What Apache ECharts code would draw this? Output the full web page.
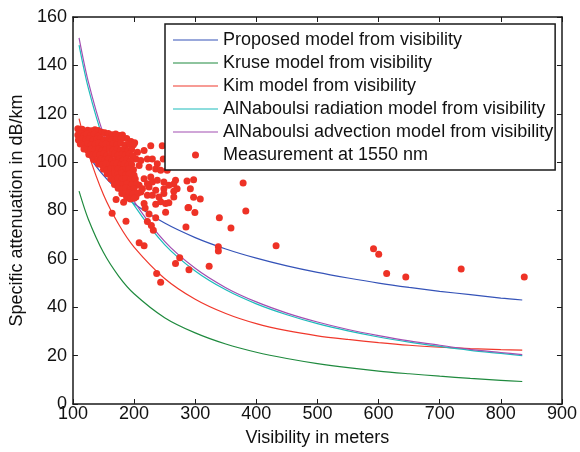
<!DOCTYPE html>
<html><head><meta charset="utf-8">
<script src="https://cdn.jsdelivr.net/npm/echarts@6/dist/echarts.min.js"></script>
<style>html,body{margin:0;padding:0;background:#fff}#c{width:580px;height:452px}</style>
</head><body><div id="c"></div>
<script>
// ---- data ----
const visibility = [110,125,150,175,200,250,300,350,400,450,500,550,600,650,700,750,800,835];
const proposedModel = [109,102.8,94.5,88.1,82.8,74.8,68.8,64.1,60.3,57.1,54.4,52.1,50.0,48.2,46.6,45.2,43.8,43.0];
const kruseModel = [88,76.5,62.6,52.8,45.6,35.7,29.4,24.8,21.4,18.8,16.7,15.0,13.6,12.5,11.5,10.6,9.8,9.3];
const kimModel = [118,103.8,86.5,74.2,64.9,51.9,43.3,37.4,33.2,30.3,28.2,26.7,25.4,24.3,23.5,22.9,22.5,22.3];
const radiationModel = [148.4,130.8,109.2,93.8,82.2,65.9,55.0,47.2,41.4,36.9,33.2,30.2,27.7,25.6,23.8,22.2,20.9,20.0];
const advectionModel = [151.4,133.4,111.4,95.7,83.8,67.2,56.1,48.1,42.2,37.6,33.9,30.8,28.3,26.1,24.3,22.6,21.3,20.4];
const measurement = [
 [166.7,92.3],[170.6,84.5],[182.9,83.4],[164.1,78.9],[186.8,75.6],[208.3,66.7],[216.4,65.4],[237.0,54.0],[243.5,50.3],
 [267.8,58.1],[274.7,60.5],[289.8,55.5],[322.8,56.9],[337.9,65.0],[337.9,63.3],[358.5,72.8],[339.5,77.0],[382.8,79.8],
 [378.4,91.4],[284.9,73.2],[299.5,79.2],[288.2,81.1],[251.6,79.3],[235.4,77.0],[228.3,73.8],[231.5,71.8],[221.8,75.5],
 [224.5,78.6],[218.1,81.0],[308.3,84.8],[297.4,85.5],[432.3,65.4],[591.7,64.2],[600.2,61.9],[613.2,54.0],[644.5,52.5],
 [735.1,55.8],[838.3,52.5],
 [227.3,106.8],[246.1,106.8],[205.6,104.1],[216.4,104.8],[203.0,101.3],[211.1,100.7],[221.8,101.3],[229.9,101.3],
 [238.0,99.3],[247.7,101.3],[208.3,98.6],[224.5,97.9],[235.4,97.2],[243.5,96.6],[254.2,96.6],[216.4,93.1],[227.3,93.8],
 [221.8,91.1],[229.9,91.8],[238.0,92.5],[248.8,91.8],[267.8,92.5],[265.0,91.0],[286.6,92.2],[297.4,92.7],[208.3,90.4],
 [213.7,89.0],[224.5,89.7],[235.4,88.4],[248.8,89.0],[256.9,90.4],[265.0,88.0],[270.4,89.0],[292.1,89.0],[211.1,87.7],
 [221.8,86.3],[229.9,86.3],[240.7,85.6],[248.8,87.0],[265.0,85.6],[203.0,85.6],[216.4,82.9],[235.4,82.6],[243.5,83.6],
 [251.6,82.9],[256.9,83.2],[289.3,81.2],
 [108,113.8],[111,112.9],[115,113.6],[119,112.7],[124,113.2],
 [130,113.0],[136,113.4],[141,113.1],[147,112.4],[152,112.1],[158,111.8],[164,111.3],[170,111.6],[176,111.0],[181,111.2],[188,109.8],[195,108.5],[201,108.0],
 [108,111.2],[113,111.8],[118,110.9],[123,111.6],[129,111.0],[135,111.5],[141,110.7],
 [109,109.1],[115,109.6],[121,109.3],[127,109.8],[133,109.0],[139,109.5],[145,109.9],[151,109.2],[157,109.6],[163,109.0],[171,109.4],[179,109.8],
 [112,107.5],[118,107.1],[124,107.6],[130,107.0],[136,107.4],[142,107.8],[148,107.2],[154,107.5],[160,107.0],[166,107.6],[172,107.3],[178,107.9],[186,107.1],[193,107.5],[199,107.2],
 [118,105.4],[124,104.9],[130,105.3],[136,105.0],[142,105.5],[148,104.8],[154,105.2],[160,105.6],[166,104.9],[172,105.3],[178,105.0],[184,105.5],[190,104.8],[196,105.2],
 [126,103.2],[132,102.8],[138,103.3],[144,102.9],[150,103.4],[156,102.7],[162,103.1],[168,103.5],[174,102.8],[180,103.2],[186,102.9],[192,103.4],[198,102.6],
 [134,101.1],[140,100.7],[146,101.3],[152,100.9],[158,101.4],[164,100.6],[170,101.0],[176,101.5],[182,100.8],[188,101.2],[194,100.6],
 [142,99.2],[148,98.8],[154,99.3],[160,98.7],[166,99.1],[172,99.5],[178,98.9],[184,99.2],[190,98.6],[196,99.0],
 [150,97.1],[156,96.7],[162,97.3],[168,96.9],[174,97.2],[180,96.6],[186,97.0],[192,97.4],[199,96.8],
 [156,95.2],[162,94.8],[168,95.3],[174,94.9],[180,95.4],[186,94.7],[192,95.1],[200,94.6],
 [162,93.1],[168,92.7],[174,93.3],[180,92.9],[186,93.2],[194,92.6],[202,93.0],
 [168,90.8],[174,91.2],[180,90.7],[188,91.1],[196,90.6],[204,91.0],
 [174,89.2],[180,88.8],[186,89.3],[194,88.7],[200,89.1],
 [180,87.0],[186,86.6],[192,87.2],[198,86.8],[206,87.1],
 [188,85.2],[194,84.8],[200,85.1]
];
const seriesNames = ['Proposed model from visibility','Kruse model from visibility','Kim model from visibility',
  'AlNaboulsi radiation model from visibility','AlNaboulsi advection model from visibility','Measurement at 1550 nm'];
const xRange = [100, 900, 100];
const yRange = [0, 160, 20];
const xTitle = 'Visibility in meters';
const yTitle = 'Specific attenuation in dB/km';

// ---- chart ----
const FONT = "'Liberation Sans', Arial, sans-serif";
const colors = ['#3553b8','#1f8a3e','#f0382c','#1dbcbc','#a24fb2'];
const dotColor = '#ee3226';
const pair = (xs, ys) => xs.map((x, i) => [x, ys[i]]);
const modelSets = [proposedModel, kruseModel, kimModel, radiationModel, advectionModel];
const LINE_ICON = 'path://M0,0M45,7M0,2.9L45,2.9L45,4.1L0,4.1Z';

const axisCommon = {
  type: 'value',
  axisLine: { show: true, onZero: false, lineStyle: { color: '#1a1a1a', width: 1.5 } },
  axisTick: { show: true, inside: true, length: 5, lineStyle: { color: '#1a1a1a', width: 1 } },
  splitLine: { show: false },
};

const chart = echarts.init(document.getElementById('c'), null, { renderer: 'canvas' });
chart.setOption({
  animation: false,
  backgroundColor: '#fff',
  grid: { left: 69, right: 17, top: 17, bottom: 45 },
  xAxis: [
    Object.assign({}, axisCommon, {
      min: xRange[0], max: xRange[1], interval: xRange[2], position: 'bottom',
      name: xTitle, nameLocation: 'middle', nameGap: 25,
      nameTextStyle: { fontFamily: FONT, fontSize: 18, color: '#111' },
      axisLabel: { fontFamily: FONT, fontSize: 18, color: '#111', margin: 1 }
    }),
    Object.assign({}, axisCommon, {
      min: xRange[0], max: xRange[1], interval: xRange[2], position: 'top',
      axisLabel: { show: false }
    })
  ],
  yAxis: [
    Object.assign({}, axisCommon, {
      min: yRange[0], max: yRange[1], interval: yRange[2], position: 'left',
      name: yTitle, nameLocation: 'middle', nameGap: 44,
      nameTextStyle: { fontFamily: FONT, fontSize: 18, color: '#111' },
      axisLabel: { fontFamily: FONT, fontSize: 18, color: '#111', margin: 6 }
    }),
    Object.assign({}, axisCommon, {
      min: yRange[0], max: yRange[1], interval: yRange[2], position: 'right',
      axisLabel: { show: false }
    })
  ],
  legend: {
    orient: 'vertical',
    left: 165, top: 24,
    padding: [7, 2, 6, 8],
    itemWidth: 45, itemHeight: 7, itemGap: 5,
    backgroundColor: '#fff',
    borderColor: '#1a1a1a', borderWidth: 1.5, borderRadius: 0,
    textStyle: { fontFamily: FONT, fontSize: 18, color: '#111' },
    data: seriesNames.slice(0, 5).map((n, i) => ({
      name: n, icon: LINE_ICON, itemStyle: { color: colors[i], borderWidth: 0 }
    })).concat([{
      name: seriesNames[5], icon: 'circle', itemStyle: { color: dotColor, borderWidth: 0 }
    }])
  },
  series: modelSets.map((ys, i) => ({
    name: seriesNames[i],
    type: 'line',
    data: pair(visibility, ys),
    smooth: 0.3,
    symbol: 'none',
    color: colors[i],
    lineStyle: { width: 1.2, color: colors[i] },
    z: 2
  })).concat([{
    name: seriesNames[5],
    type: 'scatter',
    data: measurement,
    symbol: 'circle',
    symbolSize: 7,
    itemStyle: { color: dotColor, opacity: 1 },
    z: 3
  }])
});
</script>
</body></html>
